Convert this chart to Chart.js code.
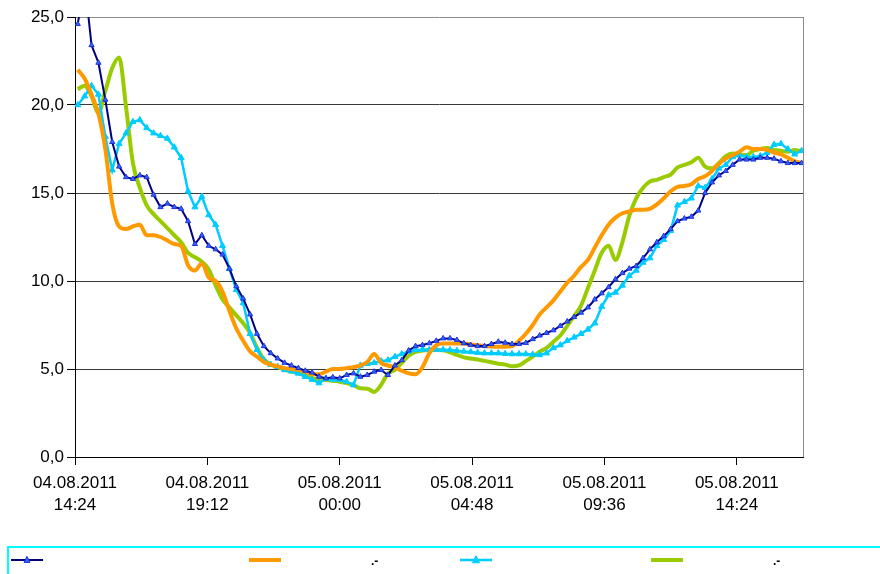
<!DOCTYPE html>
<html>
<head>
<meta charset="utf-8">
<script src="https://cdn.jsdelivr.net/npm/chart.js@4.4.0/dist/chart.umd.min.js"></script>
<style>
  html, body { margin: 0; padding: 0; background: #fff; }
  #wrap { width: 880px; height: 574px; }
</style>
</head>
<body>
<div id="wrap"><canvas id="line-chart" width="880" height="574"></canvas></div>
<script>
// hours after 04.08.2011 14:24, one reading every 15 minutes
const firstHour = 0.1;
const stepHours = 0.25;

const xTickDates = ["04.08.2011", "04.08.2011", "05.08.2011", "05.08.2011", "05.08.2011", "05.08.2011"];
const xTickTimes = ["14:24", "19:12", "00:00", "04:48", "09:36", "14:24"];
const yTickLabels = ["0,0", "5,0", "10,0", "15,0", "20,0", "25,0"];

const legendLabels = ["", ".-", "", ".-"];

const navyValues = [
  24.6, 27.0, 23.4, 22.4, 20.3, 17.9, 16.5, 15.9, 15.8, 16.0,
  15.9, 14.9, 14.2, 14.4, 14.2, 14.1, 13.4, 12.1, 12.6, 12.0,
  11.8, 11.5, 10.7, 9.7, 9.0, 8.1, 7.0, 6.3, 5.9, 5.6,
  5.35, 5.2, 5.05, 4.9, 4.8, 4.56, 4.47, 4.53, 4.47, 4.66,
  4.75, 4.56, 4.66, 4.85, 4.94, 4.66, 5.2, 5.5, 6.05, 6.3,
  6.36, 6.46, 6.6, 6.74, 6.74, 6.65, 6.46, 6.36, 6.3, 6.3,
  6.42, 6.55, 6.49, 6.42, 6.42, 6.48, 6.7, 6.9, 7.05, 7.2,
  7.45, 7.7, 7.95, 8.2, 8.5, 8.95, 9.3, 9.65, 10.1, 10.45,
  10.7, 10.85, 11.3, 11.8, 12.2, 12.55, 12.95, 13.4, 13.55, 13.65,
  14.0, 15.0, 15.6, 16.0, 16.25, 16.6, 16.9, 16.9, 16.9, 17.0,
  17.0, 16.95, 16.8, 16.7, 16.7, 16.7
];

const orangeValues = [
  22.0, 21.5, 20.6, 19.5, 17.5, 14.4, 13.1, 12.95, 13.1, 13.2,
  12.6, 12.6, 12.5, 12.3, 12.1, 12.0, 10.9, 10.6, 11.0, 10.2,
  10.0, 9.4, 8.3, 7.3, 6.6, 6.0, 5.7, 5.4, 5.25, 5.15,
  5.05, 5.0, 4.95, 4.85, 4.7, 4.7, 4.85, 5.0, 5.0, 5.05,
  5.1, 5.2, 5.4, 5.85, 5.35, 5.2, 5.1, 4.9, 4.75, 4.7,
  5.1, 5.9, 6.35, 6.45, 6.45, 6.45, 6.45, 6.4, 6.35, 6.3,
  6.28, 6.27, 6.27, 6.3, 6.6, 7.0, 7.5, 8.1, 8.5, 8.9,
  9.4, 9.9, 10.3, 10.8, 11.2, 11.9, 12.6, 13.2, 13.6, 13.85,
  13.95, 14.05, 14.05, 14.1, 14.35, 14.7, 15.1, 15.35, 15.4, 15.5,
  15.8, 15.95, 16.25, 16.65, 16.95, 17.15, 17.35, 17.6, 17.5, 17.5,
  17.45, 17.3, 17.2, 17.0, 16.8, 16.7
];

const cyanValues = [
  20.0, 20.5, 21.1, 20.6, 18.2, 16.3, 17.8, 18.4, 19.05, 19.15,
  18.7, 18.4, 18.25, 18.1, 17.6, 17.0, 15.1, 14.2, 14.8, 13.75,
  13.2, 12.0, 10.7, 9.5, 8.75, 7.0, 6.1, 5.5, 5.25, 5.13,
  4.95, 4.87, 4.75, 4.56, 4.4, 4.2, 4.45, 4.4, 4.38, 4.28,
  4.09, 5.2, 5.3, 5.35, 5.45, 5.5, 5.7, 5.85, 6.0, 6.08,
  6.1, 6.1, 6.1, 6.1, 6.08, 6.04, 6.0, 5.97, 5.93, 5.9,
  5.9, 5.9, 5.87, 5.85, 5.85, 5.85, 5.83, 5.8, 5.9, 6.2,
  6.36, 6.6, 6.8, 7.0, 7.25, 7.6, 8.55, 9.2, 9.35, 9.75,
  10.3, 10.6, 11.05, 11.3, 12.0, 12.35, 12.85, 14.3, 14.5, 14.7,
  15.4, 15.3, 15.8, 16.4, 16.6, 17.05, 17.15, 17.05, 17.05, 17.1,
  17.3, 17.75, 17.8, 17.5, 17.2, 17.4
];

const greenValues = [
  20.9, 21.1, 20.5, 19.55, 20.8, 22.1, 22.7, 19.9, 16.7, 15.3,
  14.3, 13.8, 13.4, 13.0, 12.6, 12.2, 11.6, 11.35, 11.1, 10.65,
  9.75, 8.95, 8.5, 8.05, 7.6, 7.05, 6.2, 5.55, 5.25, 5.1,
  4.97, 4.85, 4.77, 4.62, 4.48, 4.42, 4.38, 4.33, 4.28, 4.2,
  4.08, 3.9, 3.88, 3.7, 4.1, 4.75, 4.95, 5.35, 5.75, 5.97,
  6.05, 6.08, 6.08, 6.06, 5.95, 5.8, 5.66, 5.6, 5.54, 5.46,
  5.38, 5.3, 5.25, 5.15, 5.2, 5.45, 5.7, 5.98, 6.2, 6.55,
  6.9, 7.45, 8.0, 8.6, 9.6, 10.6, 11.6, 12.0, 11.2, 12.2,
  13.7, 14.7, 15.3, 15.65, 15.75, 15.9, 16.05, 16.45, 16.6, 16.75,
  17.0, 16.5, 16.4, 16.7, 17.1, 17.25, 17.2, 17.15, 17.4, 17.5,
  17.55, 17.45, 17.4, 17.35, 17.45, 17.35
];

const COLORS = {
  navy: "rgb(0, 0, 128)",
  navyMarker: "rgb(51, 102, 255)",
  orange: "rgb(255, 153, 0)",
  cyan: "rgb(0, 204, 255)",
  green: "rgb(153, 204, 0)",
};

function toPoints(values) {
  return values.map((v, i) => ({ x: firstHour + i * stepHours, y: v }));
}

const FONT = { family: "'Liberation Sans', Arial, sans-serif", size: 17, lineHeight: 1.3 };

// draws the boxed legend under the plot and the grey right border of the plot
const excelFrame = {
  id: "excelFrame",
  afterDraw(chart) {
    const ctx = chart.ctx;
    const area = chart.chartArea;
    ctx.save();
    ctx.strokeStyle = "#8c8c8c";
    ctx.lineWidth = 1;
    ctx.beginPath();
    ctx.moveTo(area.right + 0.5, area.top);
    ctx.lineTo(area.right + 0.5, area.bottom);
    ctx.stroke();

    ctx.strokeStyle = "rgb(0, 255, 255)";
    ctx.lineWidth = 2;
    ctx.strokeRect(8, 547, 900, 60);

    const starts = [11, 249, 460, 651];
    const y = 560;
    chart.data.datasets.forEach((ds, i) => {
      const x0 = starts[i];
      ctx.strokeStyle = ds.borderColor;
      ctx.lineWidth = ds.borderWidth;
      ctx.beginPath();
      ctx.moveTo(x0, y);
      ctx.lineTo(x0 + 32, y);
      ctx.stroke();
      if (ds.pointRadius > 0) {
        const cx = x0 + 16, r = ds.pointRadius;
        ctx.fillStyle = ds.pointBackgroundColor;
        ctx.strokeStyle = ds.pointBorderColor;
        ctx.lineWidth = 1;
        ctx.beginPath();
        ctx.moveTo(cx, y - r * 1.2);
        ctx.lineTo(cx + r, y + r * 0.8);
        ctx.lineTo(cx - r, y + r * 0.8);
        ctx.closePath();
        ctx.fill();
        ctx.stroke();
      }
      if (legendLabels[i]) {
        ctx.fillStyle = "#000";
        ctx.font = "bold 12px 'Liberation Sans', Arial, sans-serif";
        ctx.textBaseline = "alphabetic";
        ctx.fillText(legendLabels[i], x0 + 122, 565);
      }
    });
    ctx.restore();
  },
};

const config_line = {
  type: "line",
  data: {
    datasets: [
      {
        label: legendLabels[0],
        data: toPoints(navyValues),
        borderColor: COLORS.navy,
        borderWidth: 2,
        pointStyle: "triangle",
        pointRadius: 3,
        pointBackgroundColor: COLORS.navyMarker,
        pointBorderColor: "rgb(30, 50, 220)",
        pointBorderWidth: 1,
        tension: 0,
      },
      {
        label: legendLabels[1],
        data: toPoints(orangeValues),
        borderColor: COLORS.orange,
        borderWidth: 4,
        pointRadius: 0,
        tension: 0.4,
        cubicInterpolationMode: "monotone",
      },
      {
        label: legendLabels[2],
        data: toPoints(cyanValues),
        borderColor: COLORS.cyan,
        borderWidth: 2.5,
        pointStyle: "triangle",
        pointRadius: 3.5,
        pointBackgroundColor: COLORS.cyan,
        pointBorderColor: COLORS.cyan,
        pointBorderWidth: 1,
        tension: 0,
      },
      {
        label: legendLabels[3],
        data: toPoints(greenValues),
        borderColor: COLORS.green,
        borderWidth: 4,
        pointRadius: 0,
        tension: 0.4,
        cubicInterpolationMode: "monotone",
      },
    ],
  },
  options: {
    responsive: false,
    animation: false,
    layout: { padding: { top: 17, right: 77, bottom: 57, left: 0 } },
    plugins: {
      legend: { display: false },
      tooltip: { enabled: false },
    },
    scales: {
      x: {
        type: "linear",
        min: 0,
        max: 26.4,
        afterFit: (s) => { s.height = 60; },
        border: { color: "#000", width: 1 },
        grid: { drawOnChartArea: false, drawTicks: true, tickLength: 8, color: "#000" },
        ticks: {
          stepSize: 4.8,
          includeBounds: false,
          autoSkip: false,
          maxRotation: 0,
          padding: 7,
          color: "#000",
          font: FONT,
          callback: (v, i) => [xTickDates[i], xTickTimes[i]],
        },
      },
      y: {
        min: 0,
        max: 25,
        afterFit: (s) => { s.width = 75; },
        border: { color: "#000", width: 1 },
        grid: {
          color: (c) => (c.tick && c.tick.value === 25 ? "#8c8c8c" : "#3a3a3a"),
          tickColor: "#000",
          tickLength: 8,
        },
        ticks: {
          stepSize: 5,
          padding: 3,
          color: "#000",
          font: FONT,
          callback: (v, i) => yTickLabels[i],
        },
      },
    },
  },
  plugins: [excelFrame],
};

var ctx_line = document.getElementById("line-chart").getContext("2d");
var myChart_line = new Chart(ctx_line, config_line);
</script>
</body>
</html>
